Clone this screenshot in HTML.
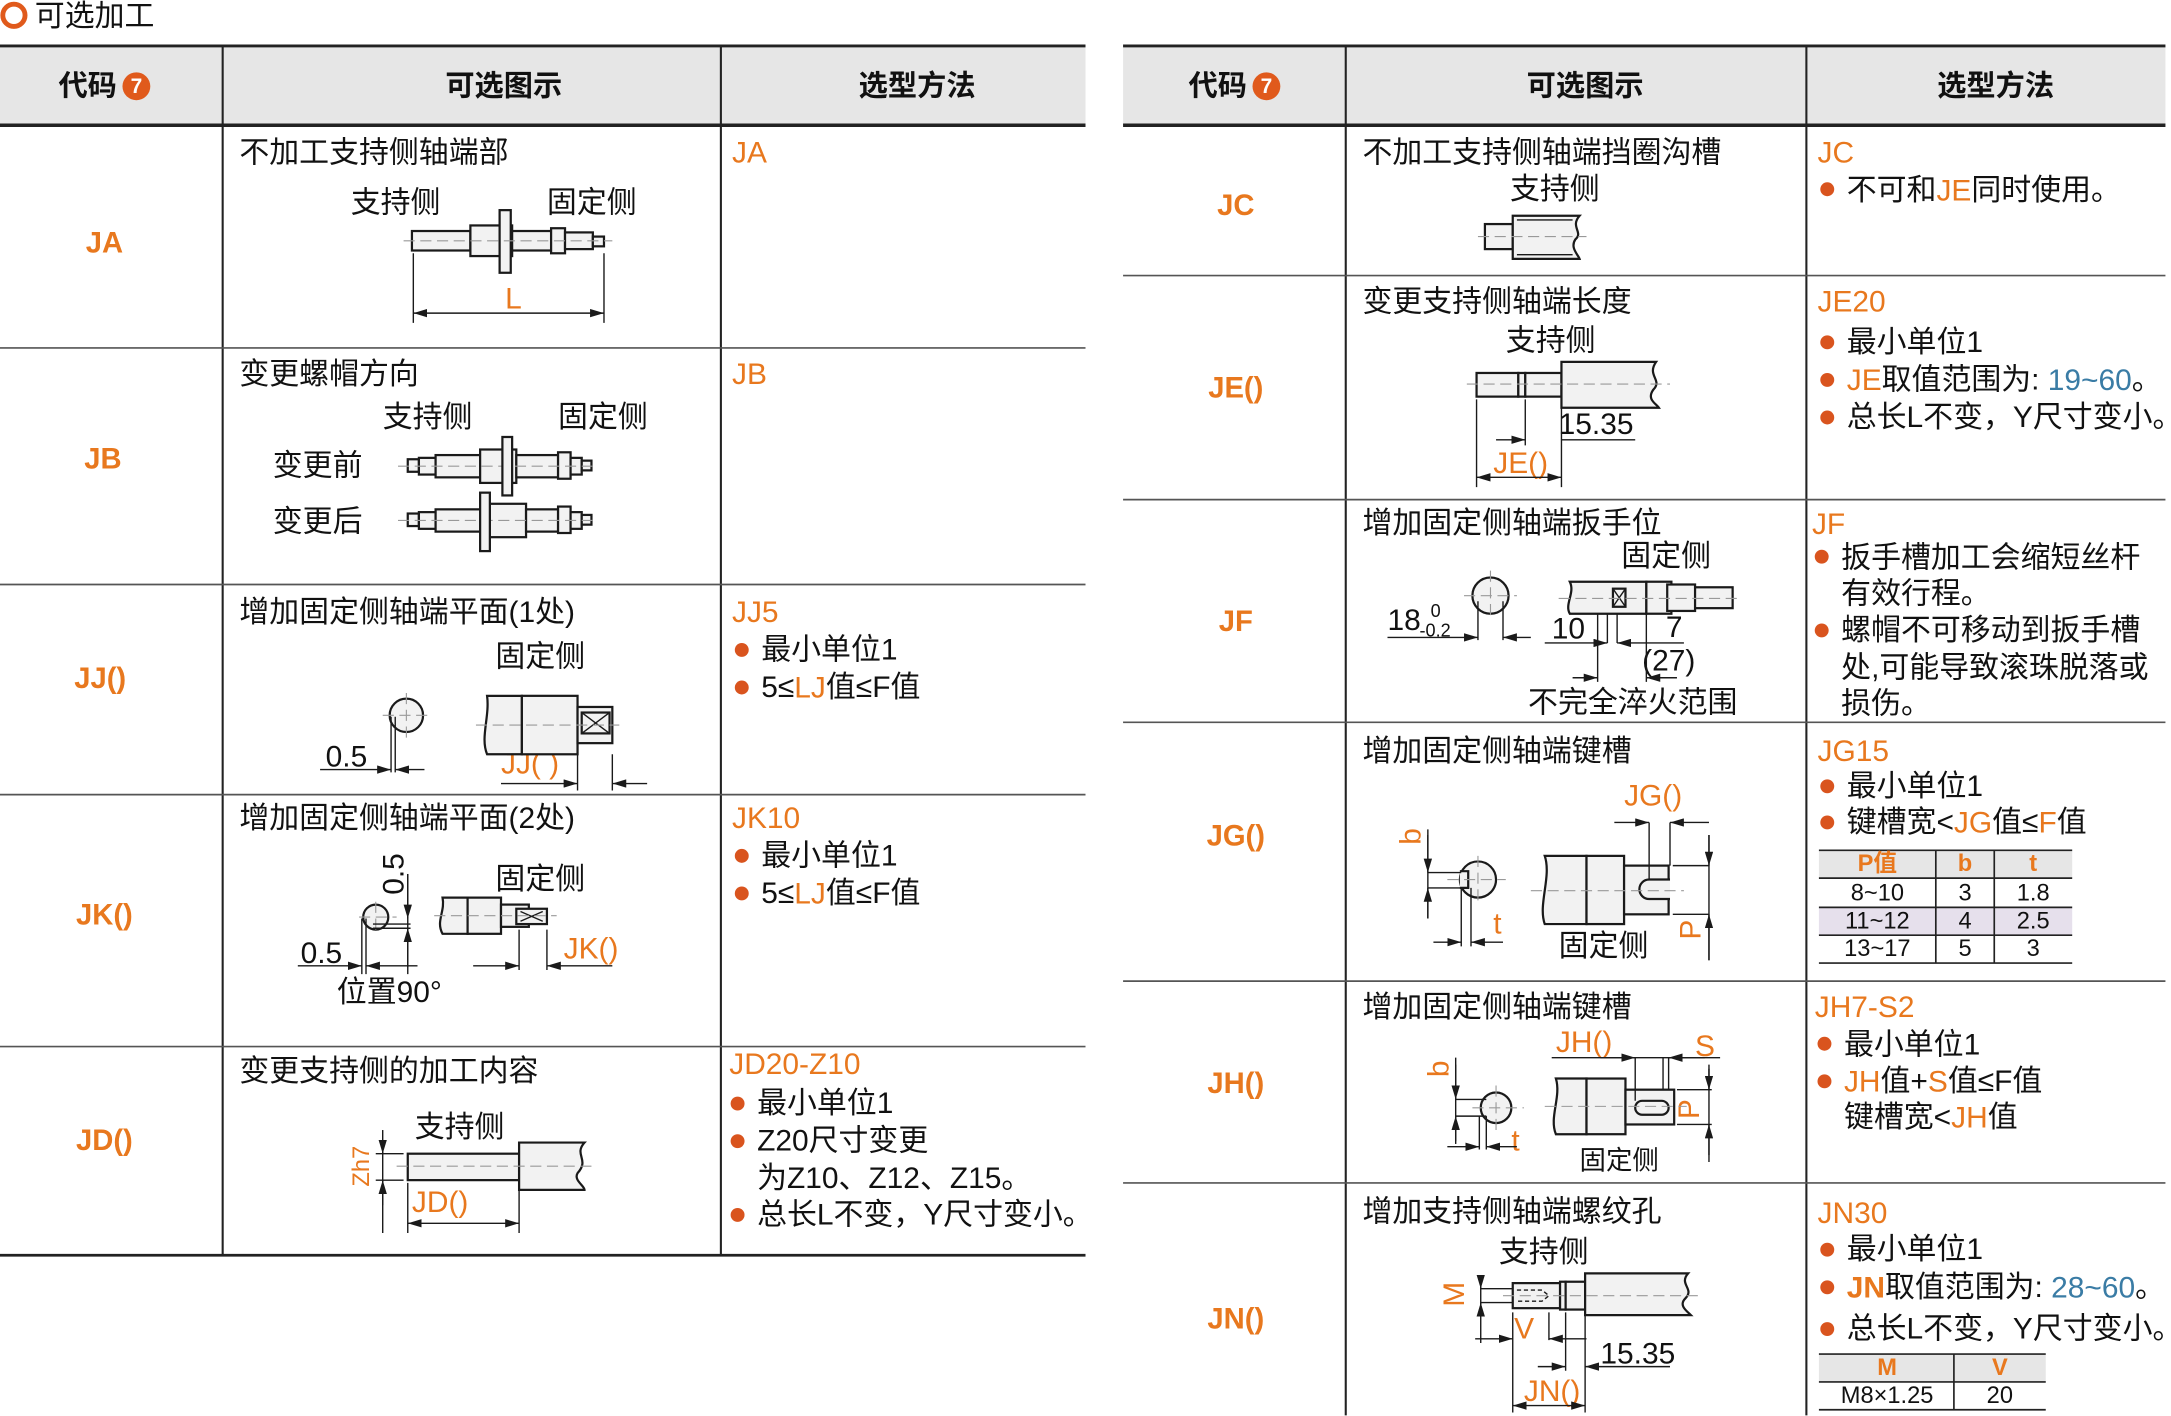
<!DOCTYPE html>
<html><head><meta charset="utf-8"><style>
html,body{margin:0;padding:0;background:#fff;width:2171px;height:1416px;overflow:hidden}
#w{transform:scale(1.39167);transform-origin:0 0;width:1560px;height:1017px}
svg text{font-family:"Liberation Sans","Noto Sans CJK SC",sans-serif;dominant-baseline:central;fill:#111}
svg .o{fill:#e8781e}svg .b{fill:#3a7ca5}.h{font-size:21px;font-weight:bold}
.t{font-size:21.5px}.c{font-size:21px;font-weight:bold}svg .c text{fill:#e8781e}
.s{fill:#f2f2f2;stroke:#1a1a1a;stroke-width:1.6}
.d{stroke:#1a1a1a;stroke-width:1;fill:none}
.cl{stroke:#999;stroke-width:.8;stroke-dasharray:8 4;fill:none}
</style></head><body><div id="w">
<svg width="1560" height="1017" viewBox="0 0 1560 1017">
<defs><marker id="a" viewBox="0 0 10 6" refX="10" refY="3" markerWidth="10" markerHeight="6" orient="auto-start-reverse"><path d="M0,0L10,3L0,6z" fill="#1a1a1a"/></marker></defs>
<circle cx="10" cy="11" r="8" fill="none" stroke="#e05a1c" stroke-width="3.5"/>
<text x="25" y="12" class="t">可选加工</text>
<rect x="0" y="33" width="780" height="57" fill="#e6e6e6"/>
<rect x="807" y="33" width="749" height="57" fill="#e6e6e6"/>
<g stroke="#222" fill="none">
<path d="M0 33H780M807 33H1556" stroke-width="2"/>
<path d="M0 90H780M807 90H1556" stroke-width="2.5"/>
<path d="M0 902H780M807 1021H1556" stroke-width="2"/>
<path d="M160 33V902M518 33V902M967 33V1021M1298 33V1021" stroke-width="1.5"/>
<path d="M0 250H780M0 420H780M0 571H780M0 752H780M807 198H1556M807 359H1556M807 519H1556M807 705H1556M807 850H1556" stroke-width="1.2" stroke="#555"/>
</g>
<g class="h">
<text x="42" y="62">代码</text><circle cx="98" cy="62" r="10" fill="#e05a1c"/><text x="98" y="62" text-anchor="middle" style="fill:#fff;font-size:15px">7</text>
<text x="362" y="62" text-anchor="middle">可选图示</text><text x="659" y="62" text-anchor="middle">选型方法</text>
<text x="854" y="62">代码</text><circle cx="910" cy="62" r="10" fill="#e05a1c"/><text x="910" y="62" text-anchor="middle" style="fill:#fff;font-size:15px">7</text>
<text x="1139" y="62" text-anchor="middle">可选图示</text><text x="1434" y="62" text-anchor="middle">选型方法</text>
</g>
<g class="c" text-anchor="middle">
<text x="75" y="175">JA</text><text x="74" y="330">JB</text><text x="72" y="488">JJ()</text><text x="75" y="658">JK()</text><text x="75" y="820">JD()</text>
<text x="888" y="148">JC</text><text x="888" y="279">JE()</text><text x="888" y="447">JF</text><text x="888" y="601">JG()</text><text x="888" y="779">JH()</text><text x="888" y="948">JN()</text>
</g>
<g class="t">
<text x="172" y="110">不加工支持侧轴端部</text><text x="252" y="146">支持侧</text><text x="393" y="146">固定侧</text>
<text x="363" y="215" class="o">L</text>
<text x="172" y="269">变更螺帽方向</text><text x="275" y="300">支持侧</text><text x="401" y="300">固定侧</text>
<text x="196" y="335">变更前</text><text x="196" y="375">变更后</text>
<text x="172" y="440">增加固定侧轴端平面(1处)</text><text x="356" y="472">固定侧</text>
<text x="234" y="544">0.5</text><text x="360" y="549" class="o">JJ( )</text>
<text x="172" y="588">增加固定侧轴端平面(2处)</text><text x="356" y="632">固定侧</text>
<text x="283" y="628" transform="rotate(-90 283 628)" text-anchor="middle">0.5</text>
<text x="216" y="685">0.5</text><text x="405" y="682" class="o">JK()</text><text x="242" y="713">位置90°</text>
<text x="172" y="770">变更支持侧的加工内容</text><text x="298" y="810">支持侧</text>
<text x="260" y="838" transform="rotate(-90 260 838)" text-anchor="middle" class="o" style="font-size:17px">Zh7</text>
<text x="296" y="864" class="o">JD()</text>
<text x="526" y="110" class="o">JA</text><text x="526" y="269" class="o">JB</text>
<text x="526" y="440" class="o">JJ5</text>
<text x="547" y="467">最小单位1</text><text x="547" y="494">5≤<tspan class="o">LJ</tspan>值≤F值</text>
<text x="526" y="588" class="o">JK10</text>
<text x="547" y="615">最小单位1</text><text x="547" y="642">5≤<tspan class="o">LJ</tspan>值≤F值</text>
<text x="524" y="765" class="o">JD20-Z10</text>
<text x="544" y="793">最小单位1</text><text x="544" y="820">Z20尺寸变更</text><text x="544" y="847">为Z10、Z12、Z15。</text><text x="544" y="873">总长L不变，Y尺寸变小。</text>
<text x="979" y="110">不加工支持侧轴端挡圈沟槽</text><text x="1085" y="136">支持侧</text>
<text x="979" y="217">变更支持侧轴端长度</text><text x="1082" y="245">支持侧</text>
<text x="1120" y="305">15.35</text><text x="1073" y="333" class="o">JE()</text>
<text x="979" y="376">增加固定侧轴端扳手位</text><text x="1165" y="400">固定侧</text>
<text x="997" y="446">18</text><text x="1028" y="439" style="font-size:13px">0</text><text x="1020" y="453" style="font-size:13px">-0.2</text>
<text x="1115" y="452">10</text><text x="1197" y="451">7</text><text x="1180" y="475">(27)</text><text x="1098" y="505">不完全淬火范围</text>
<text x="979" y="540">增加固定侧轴端键槽</text><text x="1167" y="572" class="o">JG()</text>
<text x="1014" y="601" transform="rotate(-90 1014 601)" text-anchor="middle" class="o">b</text>
<text x="1073" y="664" class="o">t</text><text x="1120" y="680">固定侧</text>
<text x="1215" y="668" transform="rotate(-90 1215 668)" text-anchor="middle" class="o">P</text>
<text x="979" y="724">增加固定侧轴端键槽</text><text x="1118" y="749" class="o">JH()</text><text x="1218" y="752" class="o">S</text>
<text x="1034" y="768" transform="rotate(-90 1034 768)" text-anchor="middle" class="o">b</text>
<text x="1086" y="820" class="o">t</text>
<text x="1214" y="797" transform="rotate(-90 1214 797)" text-anchor="middle" class="o">P</text>
<text x="1135" y="834" style="font-size:19px">固定侧</text>
<text x="979" y="871">增加支持侧轴端螺纹孔</text><text x="1077" y="900">支持侧</text>
<text x="1045" y="930" transform="rotate(-90 1045 930)" text-anchor="middle" class="o">M</text>
<text x="1088" y="955" class="o">V</text><text x="1150" y="973">15.35</text><text x="1095" y="1000" class="o">JN()</text>
<text x="1306" y="110" class="o">JC</text><text x="1327" y="137">不可和<tspan class="o">JE</tspan>同时使用。</text>
<text x="1306" y="217" class="o">JE20</text>
<text x="1327" y="246">最小单位1</text><text x="1327" y="273"><tspan class="o">JE</tspan>取值范围为: <tspan class="b">19~60</tspan>。</text><text x="1327" y="300">总长L不变，Y尺寸变小。</text>
<text x="1302" y="377" class="o">JF</text>
<text x="1323" y="401">扳手槽加工会缩短丝杆</text><text x="1323" y="427">有效行程。</text><text x="1323" y="453">螺帽不可移动到扳手槽</text><text x="1323" y="480">处,可能导致滚珠脱落或</text><text x="1323" y="506">损伤。</text>
<text x="1306" y="540" class="o">JG15</text>
<text x="1327" y="565">最小单位1</text><text x="1327" y="591">键槽宽&lt;<tspan class="o">JG</tspan>值≤<tspan class="o">F</tspan>值</text>
<text x="1304" y="724" class="o">JH7-S2</text>
<text x="1325" y="751">最小单位1</text><text x="1325" y="777"><tspan class="o">JH</tspan>值+<tspan class="o">S</tspan>值≤F值</text><text x="1325" y="803">键槽宽&lt;<tspan class="o">JH</tspan>值</text>
<text x="1306" y="872" class="o">JN30</text>
<text x="1327" y="898">最小单位1</text><text x="1327" y="925"><tspan class="o" style="font-weight:bold">JN</tspan>取值范围为:  <tspan class="b">28~60</tspan>。</text><text x="1327" y="955">总长L不变，Y尺寸变小。</text>
</g>
<g fill="#d9541e">
<circle cx="533" cy="467" r="5"/><circle cx="533" cy="494" r="5"/><circle cx="533" cy="615" r="5"/><circle cx="533" cy="642" r="5"/>
<circle cx="530" cy="793" r="5"/><circle cx="530" cy="820" r="5"/><circle cx="530" cy="873" r="5"/>
<circle cx="1313" cy="136" r="5"/><circle cx="1313" cy="246" r="5"/><circle cx="1313" cy="273" r="5"/><circle cx="1313" cy="300" r="5"/>
<circle cx="1309" cy="400" r="5"/><circle cx="1309" cy="453" r="5"/>
<circle cx="1313" cy="565" r="5"/><circle cx="1313" cy="591" r="5"/>
<circle cx="1311" cy="750" r="5"/><circle cx="1311" cy="777" r="5"/>
<circle cx="1313" cy="898" r="5"/><circle cx="1313" cy="925" r="5"/><circle cx="1313" cy="955" r="5"/>
</g>
<rect x="1307" y="611" width="182" height="20" fill="#e6e6e6"/><rect x="1307" y="652" width="182" height="20" fill="#e6e0ec"/>
<g stroke="#222" stroke-width="1.2"><path d="M1307 611H1489M1307 631H1489M1307 652H1489M1307 672H1489M1307 692H1489M1391 611V692M1433 611V692"/></g>
<g style="font-size:17px" text-anchor="middle">
<text x="1349" y="621" class="o" style="font-weight:bold">P值</text><text x="1412" y="621" class="o" style="font-weight:bold">b</text><text x="1461" y="621" class="o" style="font-weight:bold">t</text>
<text x="1349" y="642">8~10</text><text x="1412" y="642">3</text><text x="1461" y="642">1.8</text>
<text x="1349" y="662">11~12</text><text x="1412" y="662">4</text><text x="1461" y="662">2.5</text>
<text x="1349" y="682">13~17</text><text x="1412" y="682">5</text><text x="1461" y="682">3</text>
</g>
<rect x="1307" y="973" width="163" height="20" fill="#e6e6e6"/>
<g stroke="#222" stroke-width="1.2"><path d="M1307 973H1470M1307 993H1470M1307 1013H1470M1404 973V1013"/></g>
<g style="font-size:17px" text-anchor="middle">
<text x="1356" y="983" class="o" style="font-weight:bold">M</text><text x="1437" y="983" class="o" style="font-weight:bold">V</text>
<text x="1356" y="1003">M8×1.25</text><text x="1437" y="1003">20</text>
</g>
<rect class="s" x="296" y="166" width="42" height="14"/><rect class="s" x="338" y="162" width="30" height="22"/><rect class="s" x="359" y="151" width="8" height="45"/><rect class="s" x="368" y="166" width="28" height="14"/><rect class="s" x="396" y="164" width="10" height="18"/><rect class="s" x="406" y="167" width="20" height="12"/><rect class="s" x="426" y="170" width="8" height="7"/>
<path class="cl" d="M290 173H440"/><path class="d" d="M297 182V232M434 182V232"/><path class="d" d="M297 225H434" marker-start="url(#a)" marker-end="url(#a)"/>
<g><rect class="s" x="293" y="330" width="8" height="9"/><rect class="s" x="301" y="329" width="12" height="12"/><rect class="s" x="313" y="327" width="32" height="16"/><rect class="s" x="345" y="323" width="26" height="24"/><rect class="s" x="371" y="327" width="30" height="16"/><rect class="s" x="401" y="325" width="9" height="19"/><rect class="s" x="410" y="329" width="8" height="12"/><rect class="s" x="418" y="331" width="7" height="7"/><path class="cl" d="M286 335H430"/></g>
<rect class="s" x="361" y="314" width="7" height="42"/>
<g transform="translate(0 39)"><rect class="s" x="293" y="330" width="8" height="9"/><rect class="s" x="301" y="329" width="12" height="12"/><rect class="s" x="313" y="327" width="32" height="16"/><rect class="s" x="352" y="323" width="26" height="24"/><rect class="s" x="378" y="327" width="23" height="16"/><rect class="s" x="401" y="325" width="9" height="19"/><rect class="s" x="410" y="329" width="8" height="12"/><rect class="s" x="418" y="331" width="7" height="7"/><path class="cl" d="M286 335H430"/></g>
<rect class="s" x="345" y="354" width="7" height="42"/>
<circle class="s" cx="292" cy="514" r="12"/><path class="cl" d="M275 514H310M292 498V530"/>
<path class="d" d="M281 515V555M284 515V555"/><path class="d" d="M230 553H281" marker-end="url(#a)"/><path class="d" d="M305 553H284" marker-end="url(#a)"/>
<path class="s" d="M350 500H375V542H350C345 530 352 515 350 500Z"/><rect class="s" x="375" y="500" width="40" height="42"/><rect class="s" x="415" y="508" width="25" height="26"/><rect class="s" x="418" y="512" width="20" height="15"/><path class="d" d="M418 512L438 527M438 512L418 527"/>
<path class="cl" d="M342 521H445"/><path class="d" d="M415 542V568M440 542V568"/><path class="d" d="M360 563H415" marker-end="url(#a)"/><path class="d" d="M465 563H440" marker-end="url(#a)"/>
<circle class="s" cx="270" cy="659" r="9"/><path class="cl" d="M258 659H285M270 648V670"/>
<path class="d" d="M260 660V700M263 660V700M293 628V700M268 664H295M268 667H295"/>
<path class="d" d="M293 628V660" marker-end="url(#a)"/><path class="d" d="M293 695V667" marker-end="url(#a)"/>
<path class="d" d="M214 694H260" marker-end="url(#a)"/><path class="d" d="M300 694H263" marker-end="url(#a)"/>
<path class="s" d="M318 645H336V671H318C313 662 320 655 318 645Z"/><rect class="s" x="336" y="645" width="24" height="26"/><rect class="s" x="360" y="650" width="20" height="16"/><rect class="s" x="371" y="653" width="22" height="11"/><path class="d" d="M374 655L390 662M390 655L374 662"/><path class="cl" d="M312 658H400"/>
<path class="d" d="M373 668V697M393 668V697"/><path class="d" d="M340 694H373" marker-end="url(#a)"/><path class="d" d="M440 694H393" marker-end="url(#a)"/>
<rect class="s" x="293" y="829" width="80" height="19"/><path class="s" d="M373 821H420C412 830 424 833 415 843C412 848 420 852 420 855H373Z"/><path class="cl" d="M285 838H425"/>
<path class="d" d="M275 826V886M270 829H290M270 848H290"/><path class="d" d="M275 812V829" marker-end="url(#a)"/><path class="d" d="M275 866V848" marker-end="url(#a)"/>
<path class="d" d="M293 850V886M373 855V886"/><path class="d" d="M293 879H373" marker-start="url(#a)" marker-end="url(#a)"/>
<rect class="s" x="1067" y="161" width="20" height="18"/><path class="s" d="M1087 155H1135C1128 163 1138 167 1132 172C1128 178 1134 183 1135 186H1087Z"/><path class="d" d="M1090 158H1130M1090 183H1130"/><path class="cl" d="M1062 170H1140"/>
<rect class="s" x="1061" y="268" width="30" height="17"/><rect class="s" x="1091" y="268" width="5" height="17"/><rect class="s" x="1096" y="268" width="26" height="17"/><path class="s" d="M1122 260H1190C1183 270 1195 273 1188 280C1183 287 1190 290 1192 293H1122Z"/><path class="cl" d="M1054 276H1200"/>
<path class="d" d="M1061 287V350M1096 287V320M1122 293V350M1122 316H1175"/><path class="d" d="M1075 316H1096" marker-end="url(#a)"/>
<path class="d" d="M1061 343H1122" marker-start="url(#a)" marker-end="url(#a)"/>
<circle class="s" cx="1071" cy="428" r="13"/><path class="cl" d="M1052 428H1090M1071 410V446"/>
<path class="d" d="M1062 432V460M1080 432V460"/><path class="d" d="M997 458H1062" marker-end="url(#a)"/><path class="d" d="M1100 458H1080" marker-end="url(#a)"/>
<path class="s" d="M1128 418H1183V441H1128C1124 434 1132 426 1128 418Z"/><rect class="s" x="1159" y="423" width="9" height="13"/><path class="d" d="M1159 423L1168 436M1168 423L1159 436"/><rect class="s" x="1183" y="418" width="18" height="23"/><rect class="s" x="1201" y="422" width="44" height="15"/><rect class="s" x="1198" y="420" width="20" height="19"/><path class="cl" d="M1120 430H1250"/>
<path class="d" d="M1148 441V490M1155 441V462M1162 441V462M1183 441V490"/><path class="d" d="M1110 462H1155" marker-end="url(#a)"/><path class="d" d="M1210 462H1162" marker-end="url(#a)"/><path class="d" d="M1130 487H1148" marker-end="url(#a)"/><path class="d" d="M1205 487H1183" marker-end="url(#a)"/>
<circle class="s" cx="1062" cy="632" r="13"/><path class="s" d="M1049 626H1055V638H1049"/><path class="cl" d="M1040 632H1082M1062 615V650"/>
<path class="d" d="M1026 596V660M1026 627H1050M1026 638H1050M1050 638V680M1057 638V680"/><path class="d" d="M1026 600V627" marker-end="url(#a)"/><path class="d" d="M1026 660V638" marker-end="url(#a)"/>
<path class="d" d="M1030 677H1050" marker-end="url(#a)"/><path class="d" d="M1080 677H1057" marker-end="url(#a)"/>
<path class="s" d="M1110 615H1140V664H1110C1105 650 1115 630 1110 615Z"/><rect class="s" x="1140" y="615" width="27" height="49"/><rect class="s" x="1167" y="622" width="32" height="35"/><path class="s" d="M1200 632H1185A7 7 0 0 0 1185 646H1200"/><path class="cl" d="M1100 640H1210"/>
<path class="d" d="M1185 591V632M1200 591V622M1202 622H1228M1202 657H1228M1228 600V690"/><path class="d" d="M1160 591H1185" marker-end="url(#a)"/><path class="d" d="M1228 591H1200" marker-end="url(#a)"/>
<path class="d" d="M1228 600V622" marker-end="url(#a)"/><path class="d" d="M1228 690V657" marker-end="url(#a)"/>
<circle class="s" cx="1075" cy="796" r="11"/><path class="cl" d="M1058 796H1095M1075 780V812"/>
<path class="d" d="M1046 760V820M1046 790H1068M1046 802H1068M1063 802V826M1068 802V826"/><path class="d" d="M1046 765V790" marker-end="url(#a)"/><path class="d" d="M1046 822V802" marker-end="url(#a)"/>
<path class="d" d="M1040 824H1063" marker-end="url(#a)"/><path class="d" d="M1090 824H1068" marker-end="url(#a)"/>
<path class="s" d="M1118 775H1140V815H1118C1113 803 1122 788 1118 775Z"/><rect class="s" x="1140" y="775" width="28" height="40"/><rect class="s" x="1168" y="783" width="35" height="25"/><rect class="s" x="1175" y="791" width="24" height="10" rx="5"/><path class="cl" d="M1110 795H1212"/>
<path class="d" d="M1175 760V791M1195 760V783M1199 760V783M1115 760H1236M1205 783H1230M1205 808H1230M1228 765V835"/>
<path class="d" d="M1150 760H1175" marker-end="url(#a)"/><path class="d" d="M1225 760H1199" marker-end="url(#a)"/>
<path class="d" d="M1228 768V783" marker-end="url(#a)"/><path class="d" d="M1228 830V808" marker-end="url(#a)"/>
<rect class="s" x="1087" y="922" width="34" height="18"/><path class="d" d="M1090 927H1108L1113 931L1108 935H1090" stroke-dasharray="3 2"/><rect class="s" x="1121" y="921" width="4" height="20"/><rect class="s" x="1125" y="921" width="14" height="20"/><path class="s" d="M1139 915H1213C1206 923 1218 926 1211 933C1206 938 1212 942 1215 945H1139Z"/><path class="cl" d="M1080 931H1220"/>
<path class="d" d="M1064 918V965M1064 926H1087M1064 936H1087"/><path class="d" d="M1064 918V926" marker-end="url(#a)"/><path class="d" d="M1064 946V936" marker-end="url(#a)"/>
<path class="d" d="M1087 943V1015M1113 943V963M1125 943V985M1139 945V1015"/>
<path class="d" d="M1060 962H1087" marker-end="url(#a)"/><path class="d" d="M1140 962H1113" marker-end="url(#a)"/>
<path class="d" d="M1105 982H1125" marker-end="url(#a)"/><path class="d" d="M1200 982H1139" marker-end="url(#a)"/>
<path class="d" d="M1087 1010H1139" marker-start="url(#a)" marker-end="url(#a)"/>
</svg></div></body></html>
